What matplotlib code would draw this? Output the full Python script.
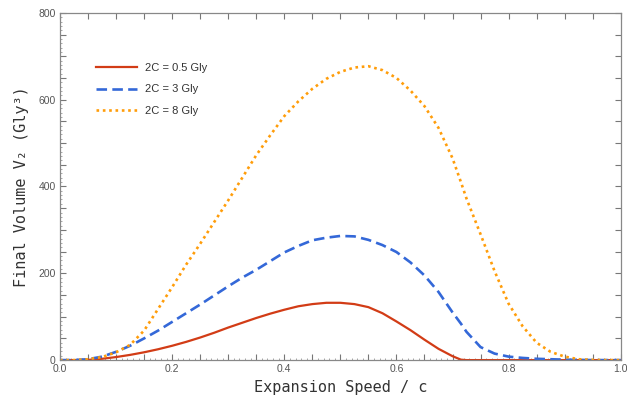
import numpy as np
import matplotlib
matplotlib.use("Agg")
import matplotlib.pyplot as plt
from matplotlib.ticker import MultipleLocator, FuncFormatter

# expansion speed in units of c
speed = [0.0, 0.025, 0.05, 0.075, 0.1, 0.125, 0.15, 0.175, 0.2, 0.225,
         0.25, 0.275, 0.3, 0.325, 0.35, 0.375, 0.4, 0.425, 0.45, 0.475,
         0.5, 0.525, 0.55, 0.575, 0.6, 0.625, 0.65, 0.675, 0.7, 0.715,
         0.725, 0.75, 0.775, 0.8, 0.825, 0.85, 0.875, 0.9, 0.925, 0.95,
         0.975, 1.0]

# final volume V2 (Gly^3) for each 2C
vol_05 = [0, 0, 0.5, 3, 7, 12, 18, 25, 33, 42,
          52, 63, 75, 86, 97, 107, 116, 124, 129, 132,
          132, 129, 122, 108, 89, 69, 47, 26, 9, 1,
          0, 0, 0, 0, 0, 0, 0, 0, 0, 0,
          0, 0]
vol_3 = [0, 0, 2, 8, 19, 33, 50, 68, 88, 108,
         128, 149, 170, 190, 208, 228, 248, 263, 276, 282,
         286, 285, 277, 265, 249, 225, 195, 157, 110, 84,
         65, 30, 15, 8, 5, 3, 2, 1, 0.5, 0,
         0, 0]
vol_8 = [0, 0, 2, 7, 18, 35, 68, 118, 168, 220,
         268, 318, 368, 420, 472, 518, 562, 596, 625, 648,
         664, 674, 677, 668, 650, 621, 585, 535, 465, 410,
         372, 290, 205, 130, 78, 40, 19, 8, 2, 0.5,
         0, 0]

labels = ["2C = 0.5 Gly", "2C = 3 Gly", "2C = 8 Gly"]
colors = ["#d23c16", "#3468d8", "#ff9d0a"]

plt.rcParams["font.family"] = ["Liberation Sans", "DejaVu Sans"]
mono = ["DejaVu Sans Mono", "DejaVu Sans"]

fig = plt.figure(figsize=(6.27, 4.01), dpi=100)
ax = fig.add_axes([0.0957, 0.102, 0.8943, 0.866])

ax.plot(speed, vol_05, color=colors[0], lw=1.6, ls="-", label=labels[0])
ax.plot(speed, vol_3, color=colors[1], lw=1.9, ls=(0, (4, 2)), label=labels[1])
ax.plot(speed, vol_8, color=colors[2], lw=1.9, ls=(0, (1, 1.4)), label=labels[2])

ax.set_xlim(0, 1)
ax.set_ylim(0, 800)

ax.xaxis.set_major_locator(MultipleLocator(0.05))
ax.xaxis.set_minor_locator(MultipleLocator(0.01))
ax.yaxis.set_major_locator(MultipleLocator(50))
ax.yaxis.set_minor_locator(MultipleLocator(10))


def xfmt(v, pos):
    return "%.1f" % v if abs(v * 5 - round(v * 5)) < 1e-6 else ""


def yfmt(v, pos):
    return "%d" % v if int(round(v)) % 200 == 0 else ""


ax.xaxis.set_major_formatter(FuncFormatter(xfmt))
ax.yaxis.set_major_formatter(FuncFormatter(yfmt))

ax.tick_params(which="major", direction="in", length=4, width=0.8,
               color="#777777", labelsize=7.5, labelcolor="#555555",
               top=True, right=True, pad=3)
ax.tick_params(which="minor", direction="in", length=1.5, width=0.6,
               color="#999999", top=False, right=False)

for s in ax.spines.values():
    s.set_color("#888888")
    s.set_linewidth(0.9)

ax.set_xlabel("Expansion Speed / c", family=mono, fontsize=11,
              color="#333333", labelpad=4)
ax.set_ylabel("Final Volume V₂ (Gly³)", family=mono, fontsize=11,
              color="#333333", labelpad=7)

ax.legend(loc="upper left", bbox_to_anchor=(0.047, 0.885), frameon=False,
          fontsize=8, handlelength=3.7, handletextpad=0.7,
          labelspacing=1.05, labelcolor="#333333")

fig.savefig("out.png", dpi=100)
